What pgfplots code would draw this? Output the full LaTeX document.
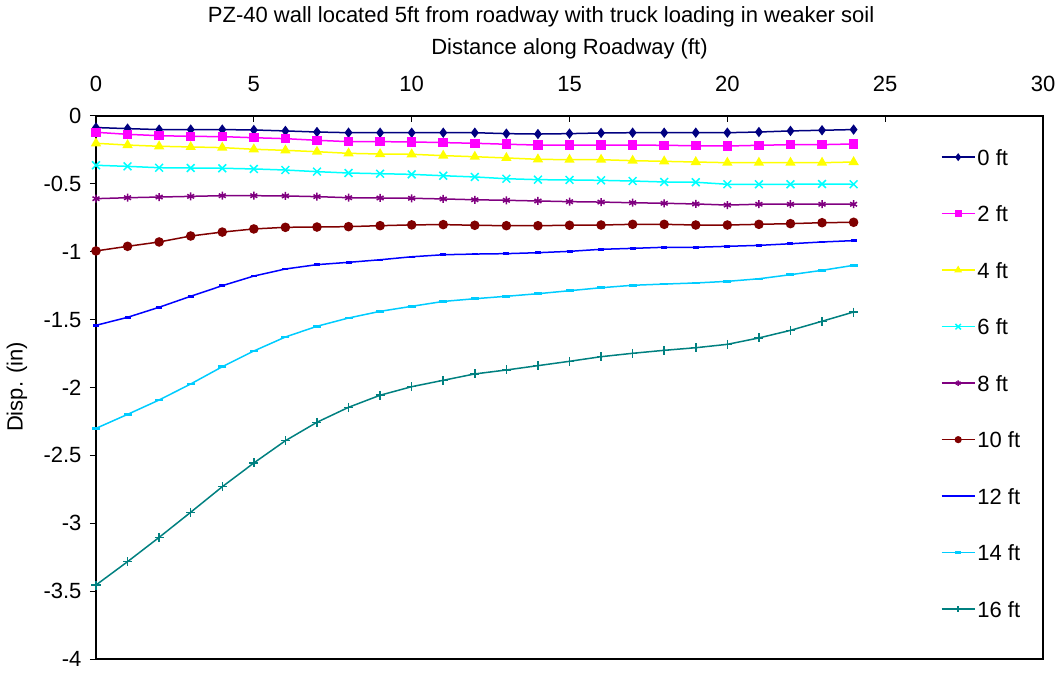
\documentclass[border=0pt]{standalone}
\usepackage{pgfplots}
\pgfplotsset{compat=1.18}
\usepackage{fontspec}
\setmainfont{Liberation Sans}
\definecolor{c0}{RGB}{0,0,128}
\definecolor{c2}{RGB}{255,0,255}
\definecolor{c4}{RGB}{255,255,0}
\definecolor{c6}{RGB}{0,255,255}
\definecolor{c8}{RGB}{128,0,128}
\definecolor{c10}{RGB}{128,0,0}
\definecolor{c12}{RGB}{0,0,255}
\definecolor{c14}{RGB}{0,204,255}
\definecolor{c16}{RGB}{0,128,128}
\begin{document}
\begin{tikzpicture}
\useasboundingbox (0,0) rectangle (1059pt,673pt);
\begin{axis}[
  at={(96pt,14pt)}, anchor=south west,
  width=947pt, height=543pt, scale only axis,
  xmin=0, xmax=30, ymin=-4, ymax=0,
  xtick={0,5,...,30}, ytick={0,-0.5,...,-4},
  xticklabel pos=top, xtick pos=top,
  ytick pos=left,
  tick align=inside,
  major tick length=6pt,
  y tick style={xshift=-6pt},
  tick style={black, line width=1pt},
  axis line style={black, line width=1.2pt},
  font=\fontsize{22}{26}\selectfont,
  ticklabel style={font=\fontsize{22}{26}\selectfont},
  yticklabel style={xshift=-11pt},
  xticklabel style={yshift=21pt},
  /pgf/number format/assume math mode=true,
  yticklabel style={/pgf/number format/fixed},
  title={PZ-40 wall located 5ft from roadway with truck loading in weaker soil},
  title style={at={(rel axis cs:0.47,1.162)}, anchor=base, inner sep=0pt},
  xlabel={Distance along Roadway (ft)},
  xlabel style={at={(rel axis cs:0.5,1.114)}, anchor=base, inner sep=0pt},
  ylabel={Disp. (in)},
  ylabel style={at={(rel axis cs:-0.0834,0.501)}, anchor=center, rotate=0, inner sep=0pt},
  every axis plot/.append style={line width=1.5pt,
    legend image code/.code={\draw[mark repeat=2,mark phase=2,##1,every mark/.append style={scale=0.7}] plot coordinates {(0pt,0pt) (16.5pt,0pt) (33pt,0pt)};}},
  legend cell align=left,
  legend style={at={(rel axis cs:0.892,0.943)}, anchor=north west, draw=none, fill=none,
    row sep=36.5pt, inner sep=0pt,
    nodes={inner sep=2pt, text height=16pt, text depth=0pt,
      font=\fontsize{22}{26}\selectfont}},
]
\addplot[c0, mark=diamond*, mark size=4pt, mark options={solid}] coordinates {
(0,-0.085) (1,-0.093) (2,-0.100) (3,-0.100) (4,-0.100) (5,-0.103) (6,-0.110) (7,-0.118) (8,-0.123) (9,-0.123) (10,-0.123) (11,-0.123) (12,-0.123) (13,-0.130) (14,-0.133) (15,-0.130) (16,-0.125) (17,-0.123) (18,-0.123) (19,-0.123) (20,-0.123) (21,-0.118) (22,-0.110) (23,-0.105) (24,-0.100)};
\addlegendentry{0 ft}
\addplot[c2, mark=square*, mark size=4pt] coordinates {
(0,-0.120) (1,-0.135) (2,-0.145) (3,-0.150) (4,-0.152) (5,-0.160) (6,-0.167) (7,-0.179) (8,-0.189) (9,-0.189) (10,-0.191) (11,-0.196) (12,-0.201) (13,-0.208) (14,-0.214) (15,-0.214) (16,-0.214) (17,-0.214) (18,-0.216) (19,-0.219) (20,-0.221) (21,-0.216) (22,-0.211) (23,-0.211) (24,-0.206)};
\addlegendentry{2 ft}
\addplot[c4, mark=triangle*, mark size=4.5pt] coordinates {
(0,-0.201) (1,-0.214) (2,-0.223) (3,-0.228) (4,-0.233) (5,-0.245) (6,-0.253) (7,-0.263) (8,-0.275) (9,-0.280) (10,-0.282) (11,-0.292) (12,-0.300) (13,-0.309) (14,-0.319) (15,-0.322) (16,-0.322) (17,-0.329) (18,-0.334) (19,-0.339) (20,-0.344) (21,-0.344) (22,-0.344) (23,-0.344) (24,-0.339)};
\addlegendentry{4 ft}
\addplot[c6, mark=x, mark size=5.5pt] coordinates {
(0,-0.363) (1,-0.371) (2,-0.381) (3,-0.383) (4,-0.385) (5,-0.390) (6,-0.398) (7,-0.410) (8,-0.420) (9,-0.425) (10,-0.430) (11,-0.440) (12,-0.449) (13,-0.462) (14,-0.469) (15,-0.471) (16,-0.474) (17,-0.479) (18,-0.486) (19,-0.488) (20,-0.503) (21,-0.503) (22,-0.503) (23,-0.501) (24,-0.503)};
\addlegendentry{6 ft}
\addplot[c8, mark=asterisk, mark size=4pt] coordinates {
(0,-0.609) (1,-0.602) (2,-0.597) (3,-0.592) (4,-0.587) (5,-0.587) (6,-0.589) (7,-0.594) (8,-0.602) (9,-0.604) (10,-0.606) (11,-0.611) (12,-0.617) (13,-0.621) (14,-0.626) (15,-0.631) (16,-0.634) (17,-0.639) (18,-0.643) (19,-0.648) (20,-0.656) (21,-0.650) (22,-0.650) (23,-0.650) (24,-0.650)};
\addlegendentry{8 ft}
\addplot[c10, mark=*, mark size=4pt] coordinates {
(0,-0.994) (1,-0.960) (2,-0.928) (3,-0.884) (4,-0.855) (5,-0.832) (6,-0.820) (7,-0.818) (8,-0.815) (9,-0.808) (10,-0.802) (11,-0.800) (12,-0.805) (13,-0.808) (14,-0.808) (15,-0.805) (16,-0.803) (17,-0.798) (18,-0.798) (19,-0.803) (20,-0.803) (21,-0.798) (22,-0.793) (23,-0.786) (24,-0.783)};
\addlegendentry{10 ft}
\addplot[c12, mark=-, mark size=3pt, mark options={line width=2.5pt}] coordinates {
(0,-1.542) (1,-1.483) (2,-1.409) (3,-1.328) (4,-1.250) (5,-1.179) (6,-1.127) (7,-1.095) (8,-1.078) (9,-1.059) (10,-1.037) (11,-1.022) (12,-1.017) (13,-1.014) (14,-1.007) (15,-0.997) (16,-0.982) (17,-0.975) (18,-0.967) (19,-0.967) (20,-0.960) (21,-0.953) (22,-0.941) (23,-0.928) (24,-0.918)};
\addlegendentry{12 ft}
\addplot[c14, mark=-, mark size=4pt, mark options={line width=2.5pt}] coordinates {
(0,-2.301) (1,-2.198) (2,-2.092) (3,-1.974) (4,-1.847) (5,-1.731) (6,-1.628) (7,-1.549) (8,-1.488) (9,-1.439) (10,-1.402) (11,-1.366) (12,-1.346) (13,-1.328) (14,-1.309) (15,-1.287) (16,-1.265) (17,-1.247) (18,-1.238) (19,-1.230) (20,-1.218) (21,-1.199) (22,-1.169) (23,-1.137) (24,-1.100)};
\addlegendentry{14 ft}
\addplot[c16, mark=+, mark size=4.5pt] coordinates {
(0,-3.455) (1,-3.283) (2,-3.104) (3,-2.919) (4,-2.731) (5,-2.556) (6,-2.392) (7,-2.256) (8,-2.146) (9,-2.057) (10,-1.994) (11,-1.947) (12,-1.900) (13,-1.871) (14,-1.839) (15,-1.807) (16,-1.773) (17,-1.748) (18,-1.726) (19,-1.707) (20,-1.682) (21,-1.635) (22,-1.579) (23,-1.512) (24,-1.444)};
\addlegendentry{16 ft}
\end{axis}
\end{tikzpicture}
\end{document}
